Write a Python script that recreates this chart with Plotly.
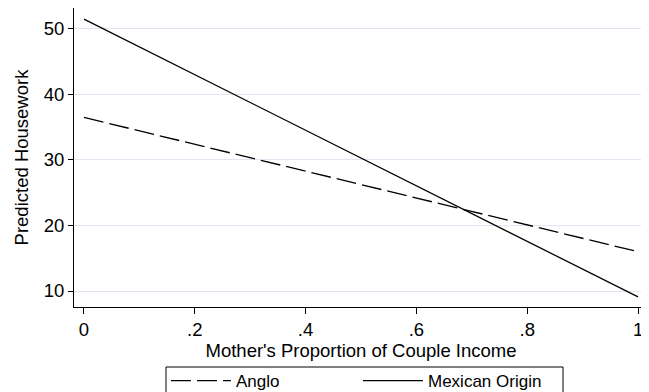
import plotly.graph_objects as go

x_vals = [0, 1]
anglo = [36.5, 16.0]
mexican = [51.5, 9.1]
x_ticks = [0, 0.2, 0.4, 0.6, 0.8, 1]
x_tick_labels = ["0", ".2", ".4", ".6", ".8", "1"]
y_ticks = [10, 20, 30, 40, 50]

FONT = "Liberation Sans, Arial, Helvetica, sans-serif"

# The page body has an 8px default margin, so the figure starts at (8, 8).
W, H = 641, 384
ML, MR, MT, MB = 66, 1, 0, 85
PW, PH = W - ML - MR, H - MT - MB

fig = go.Figure()
fig.add_trace(go.Scatter(x=x_vals, y=anglo, mode="lines", name="Anglo",
                         legend="legend",
                         line=dict(color="black", width=1.3, dash="20px,6px")))
fig.add_trace(go.Scatter(x=x_vals, y=mexican, mode="lines", name="Mexican Origin",
                         legend="legend2",
                         line=dict(color="black", width=1.3)))

# legend frame (window px -> figure px -> paper coords)
box_l, box_r, box_t, box_b = 166 - 8, 563 - 8, 367 - 8, 400 - 8
fig.add_shape(type="rect", xref="paper", yref="paper",
              x0=(box_l - ML) / PW, x1=(box_r - ML) / PW,
              y0=(H - MB - box_t) / PH, y1=(H - MB - box_b) / PH,
              line=dict(color="black", width=1), fillcolor="rgba(0,0,0,0)",
              layer="above")

leg_common = dict(orientation="h", xref="container", yref="container",
                  xanchor="left", yanchor="top", bgcolor="rgba(0,0,0,0)",
                  borderwidth=0, font=dict(size=17), itemwidth=60)
leg_top = (H - (363 - 8)) / H

fig.update_layout(
    width=W, height=H,
    margin=dict(l=ML, r=MR, t=MT, b=MB, autoexpand=False),
    paper_bgcolor="white", plot_bgcolor="white",
    font=dict(family=FONT, size=18.5, color="black"),
    xaxis=dict(range=[-0.018, 1.018], tickvals=x_ticks, ticktext=x_tick_labels,
               showgrid=False, zeroline=False, showline=True, linecolor="black",
               linewidth=1, ticks="outside", ticklen=6, tickcolor="black",
               automargin=False, ticklabeloverflow="allow",
               title=dict(text="Mother's Proportion of Couple Income", standoff=4,
                          font=dict(size=18.5))),
    yaxis=dict(range=[7.56, 53.2], tickvals=y_ticks,
               showgrid=True, gridcolor="#dfe7f2", gridwidth=1, zeroline=False,
               showline=True, linecolor="black", linewidth=1,
               ticks="outside", ticklen=5, tickcolor="black",
               automargin=False,
               title=dict(text="Predicted Housework", standoff=10, font=dict(size=18.5))),
    showlegend=True,
    legend=dict(x=(166 - 8) / W, y=leg_top, **leg_common),
    legend2=dict(x=(358 - 8) / W, y=leg_top, **leg_common),
)

fig.write_html("out.html")
